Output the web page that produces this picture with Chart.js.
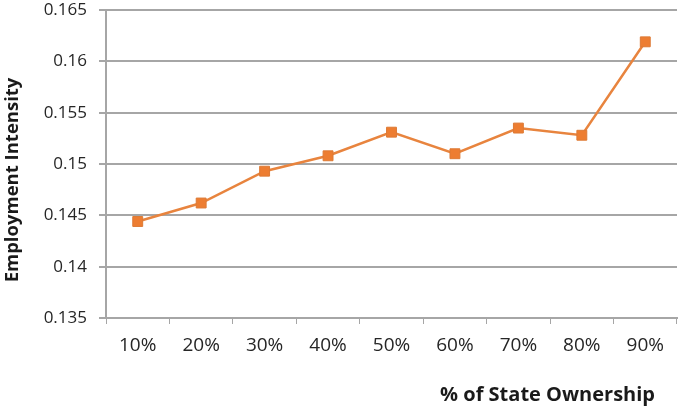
<!DOCTYPE html>
<html>
<head>
<meta charset="utf-8">
<script src="https://cdn.jsdelivr.net/npm/chart.js@4"></script>
<style>
  html, body { margin: 0; padding: 0; background: #fff; }
  #wrap { width: 685px; height: 412px; }
</style>
</head>
<body>
<div id="wrap"><canvas id="intensityChart" width="685" height="412"></canvas></div>
<script>
/* Chart data */
const ownership = ['10%', '20%', '30%', '40%', '50%', '60%', '70%', '80%', '90%'];
const intensity = [0.1444, 0.1462, 0.1493, 0.1508, 0.1531, 0.1510, 0.1535, 0.1528, 0.1619];
const yTicks = [0.135, 0.14, 0.145, 0.15, 0.155, 0.16, 0.165];

const GRID = '#a6a6a6';
const ORANGE = '#ed7d31';
const FONT = "'Open Sans', 'Liberation Sans', sans-serif";

/* Axis titles, placed like in the source picture */
const titlesPlugin = {
    id: 'axisTitles',
    afterDraw(chart) {
        const ctx = chart.ctx;
        const area = chart.chartArea;
        ctx.save();
        ctx.fillStyle = '#1a1a1a';
        ctx.textBaseline = 'middle';
        // x title, lower right
        ctx.font = 'bold 20px ' + FONT;
        ctx.textAlign = 'right';
        ctx.fillText('% of State Ownership', area.right - 22, 395);
        // y title, rotated
        ctx.font = 'bold 18.5px ' + FONT;
        ctx.textAlign = 'center';
        ctx.translate(13, 180);
        ctx.rotate(-Math.PI / 2);
        ctx.fillText('Employment Intensity', 0, 0);
        ctx.restore();
    }
};

const config = {
    type: 'line',
    data: {
        labels: ownership,
        datasets: [{
            label: 'Employment Intensity',
            data: intensity,
            borderColor: '#e8843e',
            borderWidth: 2.5,
            backgroundColor: ORANGE,
            pointStyle: 'rect',
            pointRadius: 7,
            pointBorderColor: '#dd7a35',
            pointBorderWidth: 1,
            tension: 0
        }]
    },
    options: {
        responsive: false,
        animation: false,
        layout: { padding: { top: 10, right: 3, left: 0, bottom: 0 } },
        plugins: {
            legend: { display: false },
            tooltip: { enabled: false }
        },
        scales: {
            x: {
                offset: true,
                grid: {
                    offset: true,
                    drawOnChartArea: false,
                    drawTicks: true,
                    tickLength: 6,
                    color: GRID
                },
                border: { color: GRID, width: 2 },
                ticks: {
                    color: '#262626',
                    font: { family: FONT, size: 19 },
                    padding: 10,
                    maxRotation: 0
                },
                afterFit(scale) { scale.height = 94; }
            },
            y: {
                min: 0.135,
                max: 0.165,
                afterBuildTicks(scale) {
                    scale.ticks = yTicks.map(v => ({ value: v }));
                },
                grid: {
                    color: GRID,
                    lineWidth: 2,
                    drawTicks: true,
                    tickLength: 7
                },
                border: { color: GRID, width: 2 },
                ticks: {
                    color: '#262626',
                    font: { family: FONT, size: 17 },
                    padding: 12,
                    callback: v => String(+v.toFixed(3))
                },
                afterFit(scale) {
                    scale.width = 106;
                    scale.paddingTop = 0;
                    scale.paddingBottom = 0;
                }
            }
        }
    },
    plugins: [titlesPlugin]
};

const intensityChart = new Chart(document.getElementById('intensityChart'), config);
</script>
</body>
</html>
